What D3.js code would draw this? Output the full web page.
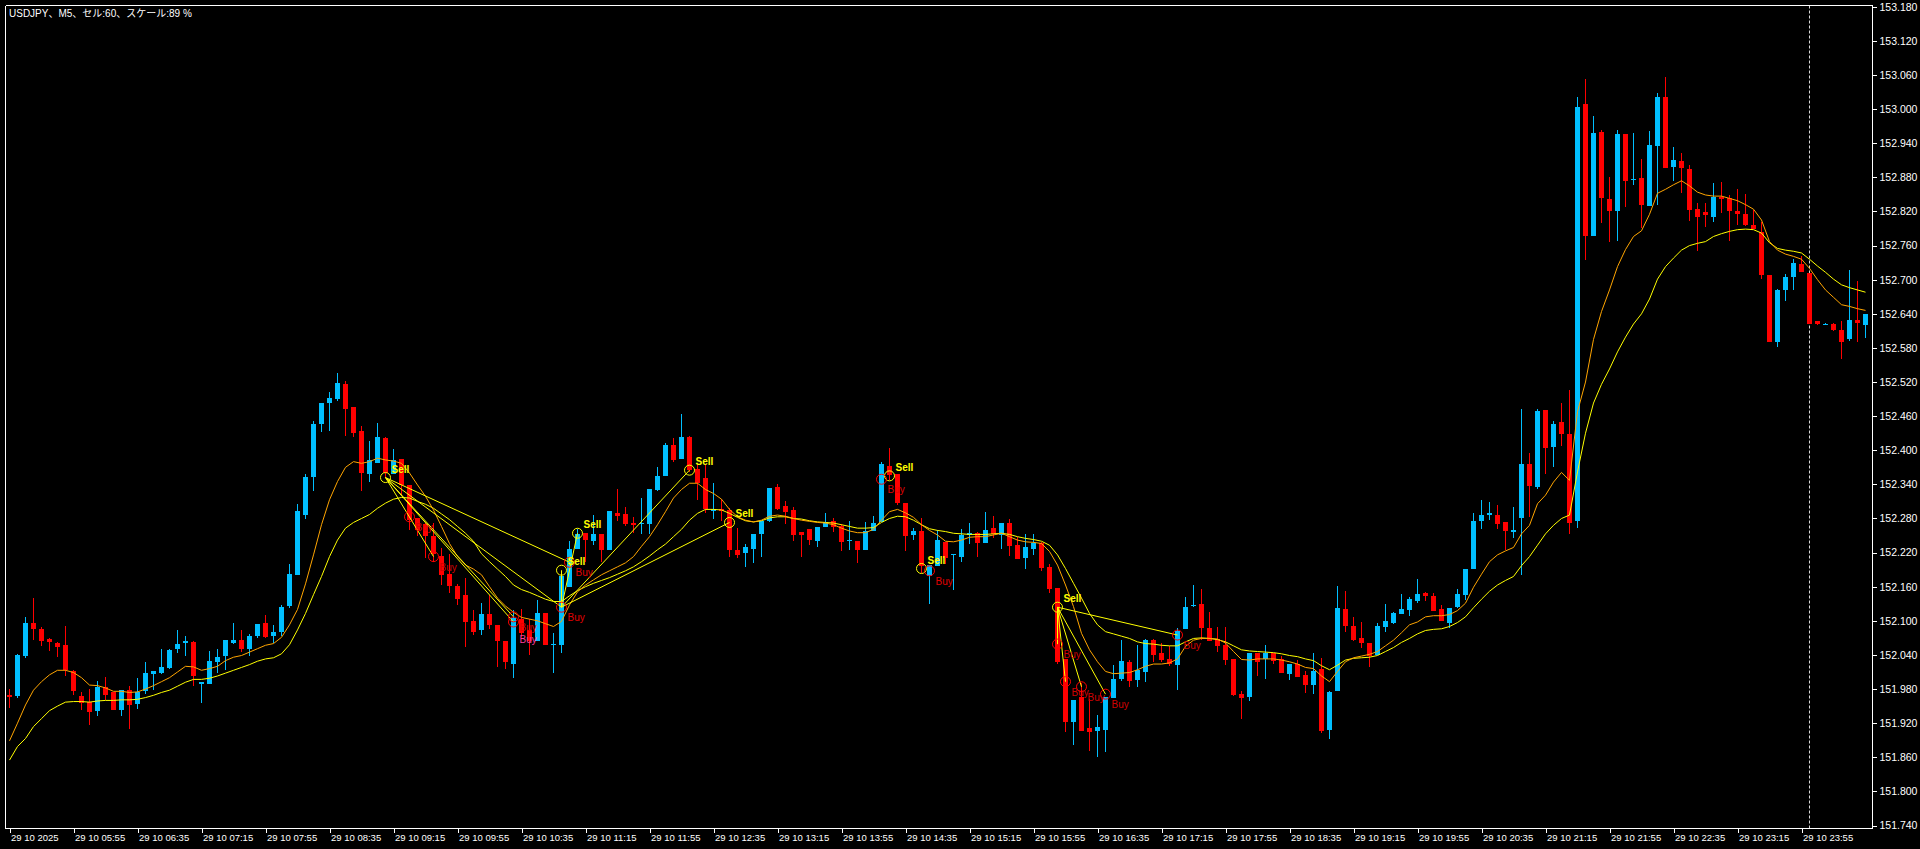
<!DOCTYPE html>
<html><head><meta charset="utf-8">
<script src="https://cdn.jsdelivr.net/npm/d3@7"></script>
<style>
html,body{margin:0;padding:0;background:#000;overflow:hidden}
svg{display:block}
</style></head><body>
<svg id="c" width="1920" height="849"></svg>
<script>
// ---- data (USDJPY M5) ----
const open = [151.969,151.967,152.039,152.096,152.085,152.068,152.061,152.057,152.012,151.968,151.958,151.941,151.984,151.974,151.943,151.978,151.954,151.977,152.007,152.008,152.017,152.050,152.061,152.063,151.989,151.989,152.027,152.038,152.061,152.067,152.051,152.074,152.096,152.074,152.080,152.126,152.181,152.286,152.353,152.446,152.483,152.490,152.517,152.476,152.434,152.358,152.378,152.422,152.358,152.385,152.339,152.281,152.271,152.249,152.214,152.183,152.162,152.146,152.100,152.083,152.112,152.093,152.065,152.024,152.103,152.084,152.065,152.113,152.057,152.058,152.160,152.227,152.255,152.241,152.253,152.225,152.290,152.288,152.272,152.270,152.270,152.330,152.354,152.409,152.385,152.423,152.367,152.351,152.293,152.297,152.295,152.225,152.220,152.227,152.252,152.275,152.335,152.302,152.295,152.256,152.262,152.241,152.265,152.276,152.267,152.241,152.241,152.225,152.258,152.273,152.372,152.358,152.307,152.251,152.258,152.178,152.197,152.239,152.215,152.212,152.251,152.255,152.237,152.263,152.251,152.272,152.233,152.211,152.226,152.237,152.195,152.158,152.033,151.922,151.966,151.912,151.906,151.908,151.964,151.998,152.028,151.996,152.010,152.066,152.044,152.033,152.022,152.086,152.126,152.130,152.087,152.068,152.058,152.033,151.971,151.966,152.044,152.033,152.044,152.033,152.007,152.024,152.005,151.987,152.015,151.908,151.977,152.121,152.091,152.070,152.061,152.040,152.089,152.096,152.112,152.119,152.135,152.149,152.144,152.120,152.097,152.125,152.146,152.191,152.276,152.287,152.287,152.274,152.257,152.280,152.376,152.335,152.471,152.406,152.450,152.429,152.276,153.009,152.776,152.960,152.842,152.821,152.956,152.875,152.879,152.829,152.935,153.022,152.899,152.909,152.895,152.824,152.819,152.811,152.846,152.843,152.821,152.816,152.797,152.784,152.709,152.591,152.682,152.705,152.728,152.712,152.628,152.620,152.622,152.612,152.595,152.629,152.620];
const high = [151.980,152.041,152.107,152.141,152.089,152.070,152.063,152.091,152.013,151.975,151.980,151.994,152.001,151.975,151.978,151.985,151.999,152.027,152.012,152.050,152.050,152.084,152.073,152.064,151.992,152.047,152.050,152.066,152.096,152.084,152.077,152.095,152.110,152.092,152.128,152.200,152.306,152.358,152.452,152.483,152.503,152.536,152.522,152.476,152.443,152.416,152.448,152.423,152.402,152.385,152.339,152.281,152.272,152.272,152.228,152.218,152.165,152.176,152.119,152.132,152.146,152.093,152.065,152.119,152.121,152.103,152.137,152.113,152.078,152.178,152.241,152.262,152.255,152.286,152.253,152.293,152.331,152.300,152.283,152.316,152.332,152.371,152.412,152.422,152.464,152.425,152.374,152.374,152.342,152.314,152.298,152.263,152.235,152.253,152.276,152.334,152.341,152.311,152.300,152.256,152.262,152.265,152.290,152.281,152.270,152.276,152.241,152.274,152.284,152.379,152.404,152.358,152.307,152.263,152.281,152.199,152.260,152.239,152.218,152.262,152.272,152.256,152.291,152.284,152.272,152.279,152.248,152.253,152.253,152.239,152.200,152.158,152.033,151.961,151.991,151.963,151.935,151.966,152.022,152.066,152.031,152.058,152.068,152.068,152.061,152.056,152.088,152.142,152.163,152.156,152.116,152.089,152.089,152.033,151.977,152.044,152.044,152.058,152.044,152.038,152.024,152.031,152.012,152.044,152.035,151.977,152.161,152.153,152.107,152.098,152.061,152.096,152.130,152.116,152.147,152.142,152.174,152.150,152.149,152.127,152.123,152.156,152.191,152.289,152.312,152.309,152.303,152.274,152.300,152.473,152.396,152.473,152.471,152.451,152.483,152.506,153.021,153.053,152.988,152.964,152.881,152.964,152.956,152.958,152.913,152.961,153.029,153.057,152.934,152.923,152.902,152.835,152.835,152.870,152.872,152.849,152.860,152.851,152.822,152.802,152.709,152.684,152.710,152.737,152.742,152.712,152.628,152.624,152.624,152.628,152.717,152.698,152.640];
const low = [151.947,151.965,152.035,152.066,152.056,152.047,152.037,152.003,151.969,151.943,151.917,151.933,151.961,151.943,151.933,151.910,151.945,151.972,151.978,152.006,152.015,152.043,152.038,151.985,151.955,151.989,152.008,152.013,152.059,152.046,152.038,152.069,152.070,152.061,152.074,152.123,152.181,152.279,152.329,152.432,152.434,152.487,152.425,152.423,152.329,152.344,152.378,152.351,152.358,152.322,152.260,152.249,152.211,152.204,152.163,152.149,152.128,152.054,152.075,152.075,152.086,152.018,152.016,151.999,152.071,152.040,152.065,152.057,152.009,152.044,152.160,152.227,152.204,152.234,152.204,152.225,152.276,152.267,152.255,152.253,152.253,152.328,152.354,152.379,152.385,152.362,152.313,152.290,152.279,152.276,152.213,152.211,152.194,152.201,152.213,152.273,152.295,152.270,152.241,152.213,152.233,152.229,152.265,152.256,152.222,152.225,152.202,152.225,152.258,152.273,152.348,152.304,152.223,152.242,152.184,152.130,152.197,152.200,152.154,152.204,152.235,152.212,152.237,152.246,152.226,152.214,152.209,152.191,152.216,152.188,152.149,152.024,151.904,151.882,151.906,151.871,151.860,151.870,151.964,151.994,151.984,151.984,151.993,152.028,152.028,152.021,151.979,152.086,152.124,152.066,152.065,152.045,152.022,151.968,151.928,151.959,152.003,151.998,152.024,152.008,151.996,152.001,151.973,151.971,151.903,151.892,151.977,152.080,152.065,152.052,152.019,152.040,152.080,152.095,152.112,152.109,152.131,152.134,152.118,152.099,152.088,152.122,152.137,152.191,152.262,152.278,152.262,152.224,152.246,152.181,152.282,152.331,152.359,152.370,152.407,152.253,152.263,152.734,152.776,152.800,152.766,152.768,152.828,152.866,152.791,152.829,152.832,152.897,152.874,152.853,152.804,152.750,152.792,152.802,152.818,152.768,152.796,152.794,152.789,152.702,152.591,152.581,152.662,152.682,152.714,152.622,152.620,152.620,152.609,152.561,152.593,152.591,152.598];
const close = [151.966,152.040,152.097,152.086,152.065,152.063,152.054,152.013,151.976,151.956,151.940,151.984,151.969,151.943,151.978,151.952,151.974,152.008,152.012,152.019,152.049,152.059,152.064,152.003,151.992,152.029,152.036,152.066,152.066,152.051,152.074,152.095,152.071,152.081,152.125,152.183,152.293,152.353,152.446,152.483,152.492,152.518,152.473,152.431,152.360,152.383,152.423,152.360,152.383,152.339,152.278,152.260,152.249,152.218,152.181,152.162,152.139,152.098,152.081,152.112,152.092,152.064,152.028,152.105,152.078,152.065,152.114,152.057,152.059,152.178,152.227,152.253,152.243,152.253,152.225,152.293,152.285,152.270,152.269,152.272,152.332,152.355,152.409,152.383,152.423,152.365,152.343,152.297,152.296,152.293,152.224,152.215,152.229,152.253,152.276,152.334,152.297,152.291,152.251,152.251,152.242,152.265,152.274,152.265,152.238,152.242,152.225,152.258,152.272,152.376,152.357,152.307,152.249,152.258,152.197,152.199,152.242,152.211,152.218,152.251,152.255,152.237,152.260,152.253,152.272,152.232,152.209,152.230,152.237,152.193,152.156,152.028,151.922,151.961,151.906,151.905,151.913,151.966,151.998,152.030,151.994,152.014,152.066,152.040,152.031,152.024,152.082,152.124,152.128,152.087,152.065,152.056,152.031,151.970,151.964,152.044,152.028,152.044,152.029,152.008,152.024,152.001,151.987,152.012,151.906,151.975,152.123,152.091,152.066,152.061,152.038,152.091,152.100,152.114,152.121,152.138,152.147,152.143,152.118,152.099,152.123,152.147,152.191,152.276,152.287,152.289,152.271,152.258,152.259,152.376,152.338,152.469,152.404,152.447,152.429,152.272,153.003,152.777,152.958,152.843,152.821,152.956,152.874,152.877,152.831,152.937,153.022,152.897,152.911,152.896,152.822,152.811,152.813,152.846,152.842,152.820,152.816,152.796,152.789,152.709,152.591,152.682,152.705,152.730,152.714,152.622,152.622,152.622,152.611,152.590,152.629,152.623,152.640];
const maFast = [151.889,151.920,151.952,151.978,151.993,152.005,152.013,152.013,152.009,152.000,151.987,151.986,151.982,151.976,151.976,151.974,151.975,151.980,151.986,151.993,152.000,152.010,152.020,152.019,152.013,152.016,152.020,152.030,152.036,152.039,152.045,152.051,152.057,152.060,152.071,152.093,152.120,152.165,152.216,152.269,152.313,152.345,152.370,152.380,152.377,152.380,152.386,152.383,152.381,152.377,152.360,152.339,152.319,152.295,152.266,152.236,152.213,152.198,152.191,152.181,152.160,152.140,152.126,152.115,152.106,152.103,152.100,152.095,152.090,152.099,152.128,152.151,152.163,152.172,152.181,152.188,152.195,152.202,152.213,152.231,152.248,152.269,152.292,152.316,152.331,152.342,152.342,152.331,152.324,152.314,152.296,152.283,152.277,152.274,152.277,152.284,152.286,152.284,152.280,152.277,152.275,152.273,152.272,152.269,152.263,152.258,152.255,152.255,152.261,152.277,152.292,152.296,152.290,152.282,152.269,152.259,152.251,152.240,152.239,152.242,152.247,152.248,152.248,152.251,152.254,152.248,152.242,152.239,152.238,152.236,152.222,152.198,152.163,152.125,152.078,152.049,152.028,152.011,152.007,152.008,152.009,152.014,152.020,152.024,152.024,152.026,152.033,152.055,152.066,152.069,152.069,152.068,152.061,152.046,152.032,152.031,152.033,152.033,152.033,152.031,152.028,152.024,152.018,152.016,152.003,151.993,152.011,152.028,152.035,152.038,152.041,152.046,152.056,152.066,152.079,152.093,152.098,152.107,152.109,152.109,152.111,152.118,152.131,152.159,152.182,152.204,152.216,152.223,152.229,152.253,152.268,152.306,152.321,152.344,152.361,152.347,152.468,152.520,152.595,152.644,152.682,152.723,152.753,152.776,152.786,152.815,152.852,152.859,152.867,152.874,152.865,152.854,152.849,152.847,152.847,152.843,152.839,152.832,152.824,152.805,152.767,152.752,152.745,152.741,152.736,152.720,152.700,152.682,152.669,152.656,152.653,152.649,152.646];
const maSlow = [151.855,151.879,151.893,151.914,151.928,151.942,151.950,151.957,151.958,151.958,151.957,151.959,151.960,151.960,151.961,151.961,151.962,151.965,151.969,151.974,151.978,151.985,151.992,151.997,151.997,151.999,152.003,152.008,152.013,152.018,152.023,152.029,152.033,152.035,152.042,152.058,152.084,152.113,152.146,152.178,152.213,152.242,152.263,152.273,152.280,152.287,152.298,152.307,152.314,152.317,152.316,152.310,152.305,152.298,152.288,152.278,152.266,152.254,152.240,152.218,152.204,152.191,152.178,152.163,152.155,152.150,152.144,152.138,152.134,152.134,152.144,152.153,152.160,152.166,152.171,152.176,152.182,152.188,152.195,152.204,152.214,152.225,152.235,152.248,152.261,152.277,152.289,152.296,152.296,152.295,152.289,152.282,152.276,152.274,152.276,152.281,152.283,152.283,152.280,152.279,152.276,152.274,152.273,152.272,152.269,152.266,152.263,152.263,152.264,152.273,152.280,152.284,152.283,152.277,152.269,152.262,152.259,152.257,152.254,152.253,152.252,152.252,152.252,152.253,152.254,152.252,152.248,152.245,152.243,152.240,152.233,152.216,152.192,152.166,152.140,152.113,152.093,152.081,152.077,152.073,152.069,152.063,152.060,152.059,152.057,152.056,152.056,152.063,152.069,152.070,152.069,152.067,152.063,152.056,152.049,152.047,152.046,152.045,152.044,152.042,152.039,152.037,152.033,152.030,152.021,152.014,152.022,152.031,152.034,152.035,152.036,152.039,152.046,152.053,152.062,152.069,152.077,152.083,152.085,152.086,152.090,152.097,152.107,152.123,152.138,152.152,152.163,152.171,152.178,152.197,152.213,152.233,152.253,152.268,152.280,152.286,152.362,152.430,152.483,152.516,152.543,152.573,152.599,152.622,152.640,152.666,152.701,152.723,152.738,152.752,152.760,152.764,152.767,152.776,152.781,152.785,152.788,152.789,152.788,152.782,152.765,152.755,152.752,152.750,152.747,152.736,152.724,152.713,152.701,152.691,152.686,152.682,152.678];

const priceTicks = [153.180,153.120,153.060,153.000,152.940,152.880,152.820,152.760,152.700,152.640,152.580,152.520,152.460,152.400,152.340,152.280,152.220,152.160,152.100,152.040,151.980,151.920,151.860,151.800,151.740];
const timeTickIdx = [0,8,16,24,32,40,48,56,64,72,80,88,96,104,112,120,128,136,144,152,160,168,176,184,192,200,208,216,224];
const timeLabels = ["29 10 2025","29 10 05:55","29 10 06:35","29 10 07:15","29 10 07:55","29 10 08:35","29 10 09:15","29 10 09:55","29 10 10:35","29 10 11:15","29 10 11:55","29 10 12:35","29 10 13:15","29 10 13:55","29 10 14:35","29 10 15:15","29 10 15:55","29 10 16:35","29 10 17:15","29 10 17:55","29 10 18:35","29 10 19:15","29 10 19:55","29 10 20:35","29 10 21:15","29 10 21:55","29 10 22:35","29 10 23:15","29 10 23:55"];
const separatorIdx = [225];
const titleText = "USDJPY、M5、セル:60、スケール:89 %";

// signals
const sellIdx = [47,69,71,85,90,110,114,131];
const sellPrice = [152.352,152.189,152.254,152.365,152.273,152.355,152.192,152.124];
const buyIdx = [50,53,63,63,69,70,109,115,131,132,134,137,146];
const buyPrice = [152.283,152.213,152.107,152.098,152.124,152.203,152.349,152.188,152.059,151.993,151.984,151.971,152.075];
const buyColor = ["#E00000","#D00000","#E00000","#FF3C9C","#E00000","#E00000","#E00000","#E00000","#D00000","#D00000","#D00000","#D00000","#D00000"];
const buyLabelDy = [14,14,14,21,14,14,14,14,14,14,14,14,14];
// straight links: sell number -> buy number
const linkSell = [0,0,0,0,0,1,2,3,4,7,7,7,7,7];
const linkBuy  = [1,2,3,4,5,4,4,4,4,8,9,10,11,12];

// ---- drawing ----
const svg = d3.select("#c");
const W = 1920, H = 849;
svg.append("rect").attr("width", W).attr("height", H).attr("fill", "#000");

const L = 5.5, T = 5.5, R = 1872.5, B = 828.5;
const x = d3.scaleLinear().domain([0, 232]).range([9.5, 9.5 + 8 * 232]);
const y = d3.scaleLinear().domain([151.74, 153.18]).range([825.5, 6.8]);

svg.append("clipPath").attr("id", "plot").append("rect")
  .attr("x", L).attr("y", T).attr("width", R - L).attr("height", B - T);
const plot = svg.append("g").attr("clip-path", "url(#plot)");

// period separator
plot.selectAll("line.sep").data(separatorIdx).enter().append("line")
  .attr("x1", d => x(d)).attr("x2", d => x(d)).attr("y1", T).attr("y2", B)
  .attr("stroke", "#d8d8d8").attr("stroke-width", 1).attr("stroke-dasharray", "3,2");

// candles
const idx = d3.range(open.length);
const cg = plot.append("g").attr("shape-rendering", "crispEdges");
cg.selectAll("line.w").data(idx).enter().append("line")
  .attr("x1", i => x(i)).attr("x2", i => x(i))
  .attr("y1", i => y(high[i])).attr("y2", i => y(low[i]))
  .attr("stroke", i => close[i] >= open[i] ? "#00BFFF" : "#FF0000").attr("stroke-width", 1);
cg.selectAll("rect.b").data(idx).enter().append("rect")
  .attr("x", i => x(i) - 2.5).attr("width", 5)
  .attr("y", i => y(Math.max(open[i], close[i])))
  .attr("height", i => Math.max(1, Math.abs(y(open[i]) - y(close[i]))))
  .attr("fill", i => close[i] >= open[i] ? "#00BFFF" : "#FF0000");

// moving averages
const lineGen = arr => d3.line().x((d, i) => x(i)).y(d => y(d))(arr);
plot.append("path").attr("d", lineGen(maSlow)).attr("fill", "none").attr("stroke", "#FFFF00").attr("stroke-width", 1);
plot.append("path").attr("d", lineGen(maFast)).attr("fill", "none").attr("stroke", "#FFA500").attr("stroke-width", 1);

// signal links
plot.selectAll("line.lk").data(d3.range(linkSell.length)).enter().append("line")
  .attr("x1", k => x(sellIdx[linkSell[k]])).attr("y1", k => y(sellPrice[linkSell[k]]))
  .attr("x2", k => x(buyIdx[linkBuy[k]])).attr("y2", k => y(buyPrice[linkBuy[k]]))
  .attr("stroke", "#FFFF00").attr("stroke-width", 1);

// circles
plot.selectAll("circle.s").data(d3.range(sellIdx.length)).enter().append("circle")
  .attr("cx", k => x(sellIdx[k])).attr("cy", k => y(sellPrice[k])).attr("r", 5)
  .attr("fill", "none").attr("stroke", "#FFFF00").attr("stroke-width", 1);
plot.selectAll("circle.b").data(d3.range(buyIdx.length)).enter().append("circle")
  .attr("cx", k => x(buyIdx[k])).attr("cy", k => y(buyPrice[k])).attr("r", 5)
  .attr("fill", "none").attr("stroke", "#FF0000").attr("stroke-width", 1);

// labels
plot.selectAll("text.s").data(d3.range(sellIdx.length)).enter().append("text")
  .attr("x", k => x(sellIdx[k]) + 6).attr("y", k => y(sellPrice[k]) - 5)
  .attr("fill", "#FFFF00").attr("font-family", "'Liberation Sans', Arial, sans-serif")
  .attr("font-size", 10).attr("font-weight", "bold").text("Sell");
plot.selectAll("text.b").data(d3.range(buyIdx.length)).enter().append("text")
  .attr("x", k => x(buyIdx[k]) + 6).attr("y", k => y(buyPrice[k]) + buyLabelDy[k])
  .attr("fill", k => buyColor[k]).attr("font-family", "'Liberation Sans', Arial, sans-serif")
  .attr("font-size", 10).text("Buy");

// frame
const fg = svg.append("g").attr("shape-rendering", "crispEdges");
fg.append("line").attr("x1", L).attr("x2", R).attr("y1", T).attr("y2", T).attr("stroke", "#fff");
fg.append("line").attr("x1", L).attr("x2", L).attr("y1", T).attr("y2", B).attr("stroke", "#fff");

// right price axis
const ya = d3.axisRight(y).tickValues(priceTicks).tickFormat(d3.format(".3f")).tickSize(4).tickPadding(3);
const yg = svg.append("g").attr("transform", `translate(${R},0)`).call(ya);
yg.select(".domain").remove();
yg.selectAll(".tick line").attr("stroke", "#fff").attr("shape-rendering", "crispEdges");
yg.selectAll(".tick text").attr("fill", "#fff").attr("font-family", "'Liberation Sans', Arial, sans-serif").attr("font-size", 10.5);
fg.append("line").attr("x1", R).attr("x2", R).attr("y1", T).attr("y2", B).attr("stroke", "#fff");

// bottom time axis
const xa = d3.axisBottom(x).tickValues(timeTickIdx).tickFormat((d, i) => timeLabels[i]).tickSize(4).tickPadding(2);
const xg = svg.append("g").attr("transform", `translate(0,${B})`).call(xa);
xg.select(".domain").remove();
xg.selectAll(".tick line").attr("stroke", "#fff").attr("shape-rendering", "crispEdges");
xg.selectAll(".tick text").attr("fill", "#fff").attr("text-anchor", "start").attr("dx", 1)
  .attr("font-family", "'Liberation Sans', Arial, sans-serif").attr("font-size", 9.5);
svg.append("rect").attr("x", R + 1).attr("y", B + 1).attr("width", W - R).attr("height", H - B).attr("fill", "#000");
fg.raise();
fg.append("line").attr("x1", L).attr("x2", R).attr("y1", B).attr("y2", B).attr("stroke", "#fff");

// title
svg.append("text").attr("x", 9).attr("y", 17).attr("fill", "#fff")
  .attr("font-family", "'Liberation Sans', 'Noto Sans CJK JP', sans-serif").attr("font-size", 10)
  .text(titleText);
</script>
</body></html>
